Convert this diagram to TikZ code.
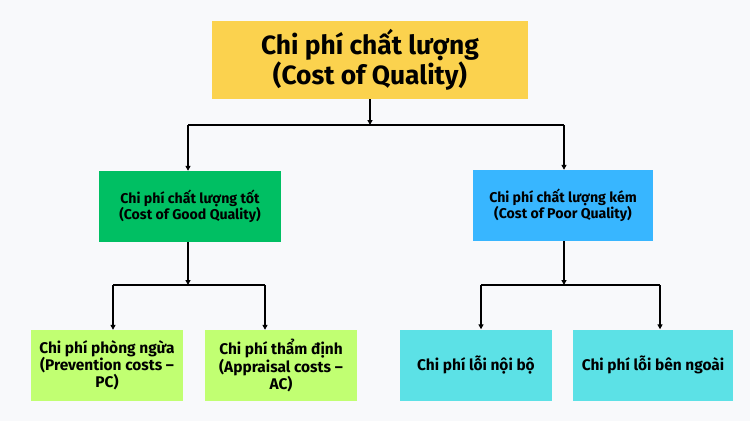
\documentclass[tikz,border=0pt]{standalone}
\usepackage{fontspec}
\setmainfont{Fira Sans}
\usetikzlibrary{arrows.meta}
\definecolor{bg}{HTML}{F8F9FB}
\definecolor{cyellow}{HTML}{FBD24E}
\definecolor{cgreen}{HTML}{00BF63}
\definecolor{cblue}{HTML}{38B6FF}
\definecolor{clime}{HTML}{C1FF72}
\definecolor{ccyan}{HTML}{5CE1E6}
\tikzset{
  box/.style={rectangle, inner sep=0pt, align=center, text=black, font=\bfseries},
  titlebox/.style={box, fill=cyellow, minimum width=316bp, minimum height=78bp, font=\fontsize{26.5}{29}\selectfont\bfseries},
  midbox/.style={box, minimum height=71bp, font=\fontsize{14.2}{16.5}\selectfont\bfseries},
  lowbox/.style={box, minimum width=152bp, minimum height=71bp, font=\fontsize{15.5}{17}\selectfont\bfseries},
  conn/.style={line width=1.4bp, draw=black},
  arr/.style={conn, -{Triangle[length=5bp,width=5bp]}}
}
\begin{document}
\begin{tikzpicture}[x=1bp,y=-1bp]
\fill[bg] (0,0) rectangle (750,421);
\useasboundingbox (0,0) rectangle (750,421);

\node[titlebox] (top) at (370,60) {Chi phí chất lượng\\(Cost of Quality)};
\node[midbox, fill=cgreen, minimum width=182bp] (good) at (190,206.5) {Chi phí chất lượng tốt\\(Cost of Good Quality)};
\node[midbox, fill=cblue, minimum width=180bp] (poor) at (563,205.5) {Chi phí chất lượng kém\\(Cost of Poor Quality)};
\node[lowbox, fill=clime] (pc) at (107,365.5) {Chi phí phòng ngừa\\(Prevention costs –\\PC)};
\node[lowbox, fill=clime] (ac) at (281,365.5) {Chi phí thẩm định\\(Appraisal costs –\\AC)};
\node[lowbox, fill=ccyan] (ifc) at (476,365) {Chi phí lỗi nội bộ};
\node[lowbox, fill=ccyan, minimum width=160bp] (efc) at (653,365) {Chi phí lỗi bên ngoài};

% level 1
\coordinate (j0) at (370,125);
\coordinate (j0L) at (188,125);
\coordinate (j0R) at (564,125);
\draw[arr] (top.south -| j0) -- (j0);
\draw[conn] (j0L) -- (j0R);
\draw[arr] (j0L) -- (j0L |- good.north);
\draw[arr] (j0R) -- (j0R |- poor.north);

% level 2 left
\coordinate (j1) at (188,285);
\coordinate (j1L) at (113,285);
\coordinate (j1R) at (265,285);
\draw[arr] (good.south -| j1) -- (j1);
\draw[conn] (j1L) -- (j1R);
\draw[arr] (j1L) -- (j1L |- pc.north);
\draw[arr] (j1R) -- (j1R |- ac.north);

% level 2 right
\coordinate (j2) at (564,285);
\coordinate (j2L) at (481,285);
\coordinate (j2R) at (660,285);
\draw[arr] (poor.south -| j2) -- (j2);
\draw[conn] (j2L) -- (j2R);
\draw[arr] (j2L) -- (j2L |- ifc.north);
\draw[arr] (j2R) -- (j2R |- efc.north);
\end{tikzpicture}
\end{document}
